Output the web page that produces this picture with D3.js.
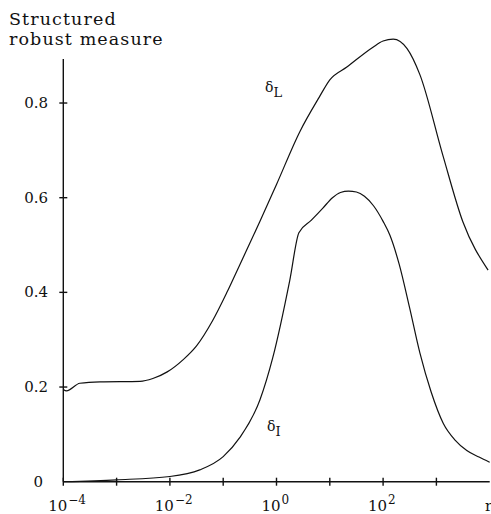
<!DOCTYPE html>
<html>
<head>
<meta charset="utf-8">
<script src="https://cdn.jsdelivr.net/npm/d3@7"></script>
<style>
  body { margin: 0; background: #fff; }
  svg text { font-family: "DejaVu Serif", "Liberation Serif", serif; fill: #111; }
</style>
</head>
<body>
<svg id="chart" width="491" height="514"></svg>
<script>
// log10(r) positions and values
const logR_L = [-4.0, -3.94, -3.69, -3.31, -2.56, -2.32, -2.05, -1.75, -1.5, -1.2, -0.93, -0.69, -0.31, 0.0, 0.44, 0.8, 1.0, 1.32, 1.81, 2.0, 2.19, 2.45, 2.69, 3.12, 3.5, 3.97];
const deltaL = [0.195, 0.192, 0.208, 0.211, 0.212, 0.218, 0.232, 0.258, 0.287, 0.340, 0.400, 0.458, 0.550, 0.628, 0.740, 0.812, 0.849, 0.876, 0.918, 0.931, 0.935, 0.915, 0.860, 0.690, 0.548, 0.447];

const logR_I = [-4.0, -3.0, -2.0, -1.44, -1.0, -0.69, -0.31, -0.07, 0.25, 0.42, 0.65, 0.87, 1.05, 1.2, 1.35, 1.5, 1.65, 1.82, 2.0, 2.13, 2.3, 2.5, 2.69, 2.9, 3.13, 3.35, 3.57, 3.8, 4.0];
const deltaI = [0.0, 0.004, 0.011, 0.025, 0.053, 0.093, 0.173, 0.262, 0.426, 0.526, 0.552, 0.578, 0.600, 0.611, 0.614, 0.612, 0.603, 0.583, 0.550, 0.520, 0.460, 0.366, 0.272, 0.190, 0.123, 0.088, 0.066, 0.052, 0.041];

// axis ticks
const xTickExps = [-4, -3, -2, -1, 0, 1, 2, 3];
const xLabelExps = [-4, -2, 0, 2];
const yTicks = [0.2, 0.4, 0.6, 0.8];
const yLabels = ["0", "0.2", "0.4", "0.6", "0.8"];

const svg = d3.select("#chart");

const x = d3.scaleLog()
    .domain([1e-4, 1e4])
    .range([63.3, 489.7]);

const y = d3.scaleLinear()
    .domain([0, 0.893])
    .range([481.7, 59]);

// Axis lines and ticks
const axes = svg.append("g").attr("stroke", "#111").attr("stroke-width", 1.4);

axes.append("line")
    .attr("x1", x(1e-4)).attr("x2", x(1e4))
    .attr("y1", y(0)).attr("y2", y(0));

axes.append("line")
    .attr("x1", x(1e-4)).attr("x2", x(1e-4))
    .attr("y1", y(0)).attr("y2", y(0.893));

// x ticks cross the axis
axes.selectAll(".xt")
    .data(xTickExps)
    .enter().append("line")
    .attr("x1", d => x(Math.pow(10, d))).attr("x2", d => x(Math.pow(10, d)))
    .attr("y1", y(0) - 4).attr("y2", y(0) + 4);

// y ticks
axes.selectAll(".yt")
    .data(yTicks)
    .enter().append("line")
    .attr("x1", x(1e-4) - 4).attr("x2", x(1e-4) + 4)
    .attr("y1", d => y(d)).attr("y2", d => y(d));

// y labels
svg.selectAll(".ylab")
    .data([0].concat(yTicks))
    .enter().append("text")
    .attr("x", (d, i) => i === 0 ? 43 : 48)
    .attr("y", d => y(d) + 5)
    .attr("text-anchor", "end")
    .style("font-size", "15px")
    .text((d, i) => yLabels[i]);

// x labels: 10 with superscript exponent
const xl = svg.selectAll(".xlab")
    .data(xLabelExps)
    .enter().append("g")
    .attr("transform", d => `translate(${x(Math.pow(10, d))},0)`);

xl.append("text")
    .attr("x", 4)
    .attr("y", 511)
    .attr("text-anchor", "end")
    .style("font-size", "15px")
    .text("10");

xl.append("text")
    .attr("x", 5)
    .attr("y", 504)
    .style("font-size", "12px")
    .text(d => d < 0 ? "\u2212" + Math.abs(d) : d);

svg.append("text")
    .attr("x", 485)
    .attr("y", 511)
    .style("font-size", "15px")
    .text("r");

// title
svg.append("text")
    .attr("x", 9)
    .attr("y", 25)
    .style("font-size", "17.5px")
    .style("letter-spacing", "1.1px")
    .text("Structured");

svg.append("text")
    .attr("x", 9)
    .attr("y", 44.5)
    .style("font-size", "17.5px")
    .style("letter-spacing", "1.1px")
    .text("robust measure");

// curves
const line = d3.line()
    .x(d => x(Math.pow(10, d[0])))
    .y(d => y(d[1]))
    .curve(d3.curveMonotoneX);

svg.append("path")
    .datum(d3.zip(logR_L, deltaL))
    .attr("fill", "none")
    .attr("stroke", "#111")
    .attr("stroke-width", 1.2)
    .attr("d", line);

svg.append("path")
    .datum(d3.zip(logR_I, deltaI))
    .attr("fill", "none")
    .attr("stroke", "#111")
    .attr("stroke-width", 1.2)
    .attr("d", line);

// curve labels
function addLabel(px, py, sub) {
    const t = svg.append("text")
        .attr("x", px)
        .attr("y", py)
        .style("font-size", "14px");
    t.append("tspan").text("\u03b4");
    t.append("tspan")
        .attr("dy", 5)
        .style("font-size", "13px")
        .text(sub);
}
addLabel(265, 92, "L");
addLabel(267, 431, "I");
</script>
</body>
</html>
